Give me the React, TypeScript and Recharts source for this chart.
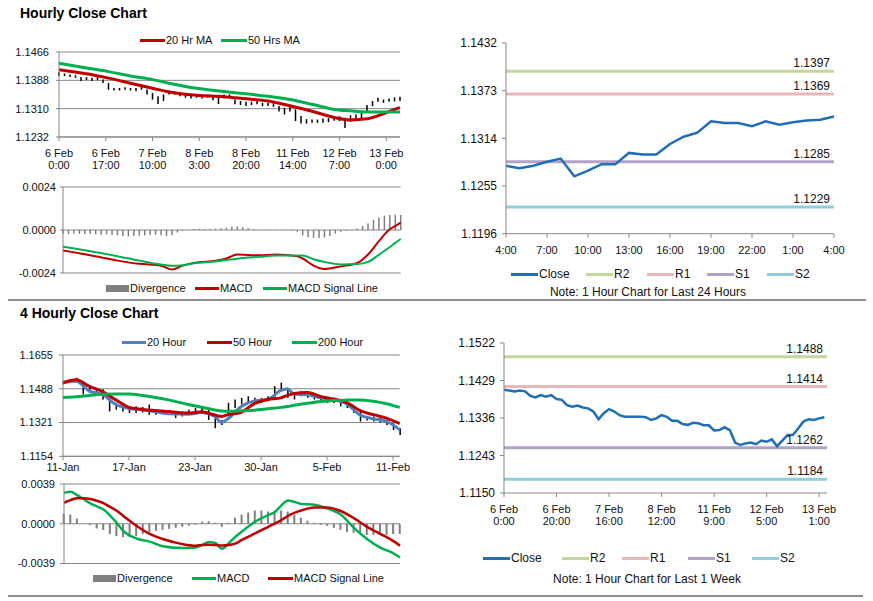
import React from 'react';
import { ComposedChart, Line, Bar, XAxis, YAxis, CartesianGrid, ReferenceLine } from 'recharts';

const FONT = '"Liberation Sans", Arial, Helvetica, sans-serif';
const AXIS = '#868686';
const TEXT = '#111';
const RED = '#C00000';
const GREEN = '#00B050';
const STEEL = '#4F81BD';
const CLOSE_BLUE = '#1F6EB7';
const DIV_GRAY = '#7F7F7F';

// ---------- Hourly close chart: 6 Feb 0:00 .. 13 Feb 0:00, one high/low bar every 2 hours
const hrTickHours = [0, 17, 34, 51, 68, 85, 102, 119];
const hrTickLabels = ['6 Feb\n0:00', '6 Feb\n17:00', '7 Feb\n10:00', '8 Feb\n3:00', '8 Feb\n20:00', '11 Feb\n14:00', '12 Feb\n7:00', '13 Feb\n0:00'];
const hrPriceTicks = [1.1232, 1.131, 1.1388, 1.1466];

const hrLow = [
  1.1400, 1.1400, 1.1397, 1.1395, 1.1386, 1.1389, 1.1386, 1.1388, 1.1381, 1.1362,
  1.1360, 1.1360, 1.1362, 1.1360, 1.1358, 1.1362, 1.1349, 1.1335, 1.1323, 1.1331,
  1.1349, 1.1349, 1.1344, 1.1340, 1.1338, 1.1340, 1.1338, 1.1340, 1.1333, 1.1323,
  1.1338, 1.1340, 1.1322, 1.1320, 1.1317, 1.1320, 1.1322, 1.1317, 1.1317, 1.1315,
  1.1302, 1.1294, 1.1302, 1.1276, 1.1269, 1.1269, 1.1271, 1.1271, 1.1271, 1.1273,
  1.1277, 1.1276, 1.1257, 1.1274, 1.1280, 1.1283, 1.1299, 1.1317, 1.1329, 1.1326,
  1.1329, 1.1330, 1.1331,
];
const hrHigh = [
  1.1410, 1.1407, 1.1404, 1.1402, 1.1397, 1.1397, 1.1395, 1.1397, 1.1390, 1.1381,
  1.1367, 1.1367, 1.1369, 1.1367, 1.1367, 1.1371, 1.1363, 1.1353, 1.1344, 1.1349,
  1.1360, 1.1358, 1.1355, 1.1353, 1.1349, 1.1347, 1.1346, 1.1349, 1.1346, 1.1342,
  1.1349, 1.1349, 1.1335, 1.1331, 1.1329, 1.1329, 1.1331, 1.1326, 1.1326, 1.1326,
  1.1317, 1.1312, 1.1317, 1.1308, 1.1290, 1.1281, 1.1280, 1.1280, 1.1283, 1.1284,
  1.1289, 1.1289, 1.1285, 1.1292, 1.1294, 1.1299, 1.1320, 1.1331, 1.1340, 1.1335,
  1.1338, 1.1341, 1.1343,
];
const hrMaHours = [0, 10, 18, 26, 34, 40, 50, 60, 68, 76, 84, 92, 100, 106, 112, 118, 122, 124];
const hrMa20 = [1.1417, 1.1406, 1.1394, 1.138, 1.1366, 1.1356, 1.1347, 1.1343, 1.1337, 1.1331, 1.1318, 1.1303, 1.1286, 1.1279, 1.1282, 1.1296, 1.1308, 1.1313];
const hrMa50 = [1.1435, 1.1422, 1.1412, 1.14, 1.139, 1.138, 1.1366, 1.1357, 1.1351, 1.1344, 1.1335, 1.1322, 1.1308, 1.1304, 1.1301, 1.1301, 1.1301, 1.1301];

const hrMacdTicks = [-0.0024, 0, 0.0024];
const hrDiv = [
  -0.0002, -0.00022, -0.0002, -0.00022, -0.00024, -0.00022, -0.00024, -0.00026, -0.00024, -0.00028,
  -0.0003, -0.00034, -0.00036, -0.00034, -0.00032, -0.0003, -0.00028, -0.00026, -0.0003, -0.00034,
  -0.0003, -0.00014, -0.00004, 0.00002, 0.00005, 0.00006, 0.00005, 0.00007, 0.00008, 0.0001,
  0.00012, 0.00018, 0.0002, 0.00016, 0.0001, 0.00004, 0.00002, -0.00002, 0.00003, 0.00002,
  -0.00002, 0.00002, -0.00004, -0.0001, -0.0003, -0.0004, -0.00044, -0.00045, -0.00042, -0.00034,
  -0.0002, -0.0001, -0.00006, -0.00002, 0.00008, 0.00022, 0.00036, 0.00056, 0.0007, 0.0008,
  0.00084, 0.00085, 0.00084,
];
const hrMacdHours = [0, 10, 20, 28, 36, 40, 44, 48, 56, 60, 64, 72, 78, 86, 88, 92, 96, 102, 108, 112, 116, 120, 122, 124];
const hrMacd = [-0.00114, -0.00141, -0.00171, -0.00189, -0.00199, -0.00221, -0.00199, -0.00184, -0.00171, -0.00159, -0.00137, -0.00141, -0.00137, -0.00146, -0.00159, -0.00199, -0.00218, -0.00203, -0.00184, -0.00137, -0.00062, 0.00004, 0.00022, 0.00041];
const hrSignal = [-0.00094, -0.00118, -0.00146, -0.00171, -0.00193, -0.002, -0.00197, -0.00185, -0.00176, -0.00168, -0.0016, -0.0015, -0.00143, -0.00142, -0.00142, -0.00163, -0.00178, -0.00192, -0.0019, -0.00178, -0.00138, -0.00095, -0.00072, -0.0005];

// ---------- 4 hourly close chart: 11 Jan .. 11 Feb, one bar every 3 units (30 units per label)
const fourTickUnits = [0, 30, 60, 90, 120, 150];
const fourTickLabels = ['11-Jan', '17-Jan', '23-Jan', '30-Jan', '5-Feb', '11-Feb'];
const fourPriceTicks = [1.1154, 1.1321, 1.1488, 1.1655];

const fourLow = [
  1.1510, 1.1518, 1.1526, 1.1460, 1.1468, 1.1471, 1.1435, 1.1376, 1.1385, 1.1376,
  1.1368, 1.1368, 1.1371, 1.1359, 1.1359, 1.1362, 1.1359, 1.1343, 1.1351, 1.1359,
  1.1368, 1.1368, 1.1334, 1.1293, 1.1309, 1.1351, 1.1393, 1.1410, 1.1418, 1.1426,
  1.1418, 1.1426, 1.1435, 1.1476, 1.1443, 1.1435, 1.1451, 1.1443, 1.1435, 1.1426,
  1.1418, 1.1418, 1.1401, 1.1393, 1.1368, 1.1326, 1.1331, 1.1326, 1.1321, 1.1309,
  1.1284, 1.1259,
];
const fourHigh = [
  1.1527, 1.1535, 1.1543, 1.1518, 1.1493, 1.1493, 1.1485, 1.1443, 1.1418, 1.1410,
  1.1401, 1.1401, 1.1398, 1.1410, 1.1384, 1.1384, 1.1376, 1.1371, 1.1376, 1.1384,
  1.1393, 1.1401, 1.1384, 1.1351, 1.1334, 1.1418, 1.1435, 1.1443, 1.1451, 1.1443,
  1.1443, 1.1451, 1.1501, 1.1518, 1.1485, 1.1468, 1.1476, 1.1468, 1.1451, 1.1443,
  1.1443, 1.1435, 1.1426, 1.1418, 1.1401, 1.1376, 1.1351, 1.1351, 1.1343, 1.1334,
  1.1318, 1.1293,
];
const fourMaUnits = [0, 6, 12, 18, 24, 30, 36, 42, 48, 57, 63, 69, 72, 75, 81, 87, 93, 99, 102, 105, 111, 117, 123, 129, 135, 141, 147, 153];
const four20 = [1.1518, 1.1525, 1.1476, 1.146, 1.141, 1.139, 1.1384, 1.1374, 1.1364, 1.1362, 1.137, 1.1351, 1.1322, 1.134, 1.14, 1.1428, 1.1435, 1.148, 1.1488, 1.1462, 1.1458, 1.1443, 1.1433, 1.1412, 1.1358, 1.134, 1.1327, 1.1286];
const four50 = [1.1518, 1.1533, 1.15, 1.1474, 1.1433, 1.1396, 1.1386, 1.138, 1.1375, 1.1368, 1.1374, 1.1358, 1.1351, 1.136, 1.1372, 1.1415, 1.1435, 1.1443, 1.1455, 1.1465, 1.147, 1.145, 1.1437, 1.142, 1.138, 1.136, 1.1343, 1.1316];
const four200 = [1.1445, 1.1448, 1.1455, 1.1461, 1.1462, 1.1462, 1.1455, 1.1445, 1.1433, 1.141, 1.1397, 1.1383, 1.1378, 1.1377, 1.1379, 1.1382, 1.1389, 1.1396, 1.14, 1.1406, 1.1416, 1.1425, 1.143, 1.1432, 1.1433, 1.1426, 1.1414, 1.1396];

const fourMacdTicks = [-0.0039, 0, 0.0039];
const fourDiv = [
  0.001, 0.0009, 0.0005, 0.0, -0.00013, -0.00045, -0.00061, -0.001, -0.0012, -0.0013,
  -0.0013, -0.0012, -0.001, -0.0008, -0.0007, -0.0006, -0.0005, -0.0004, -0.0003, -0.0002,
  -0.0001, 0.0002, 0.00026, 0.0001, -0.0003, 0.0001, 0.0006, 0.0009, 0.0011, 0.0013,
  0.0013, 0.0012, 0.0012, 0.0013, 0.0012, 0.0009, 0.0006, 0.0003, 0.0001, -0.0001,
  -0.0002, -0.0004, -0.0006, -0.0008, -0.0009, -0.001, -0.0011, -0.0011, -0.0011, -0.0011,
  -0.001, -0.001,
];
const fourMacdUnits = [0, 3, 6, 9, 12, 15, 18, 21, 24, 27, 33, 39, 45, 54, 60, 63, 66, 69, 72, 75, 78, 81, 87, 93, 96, 99, 102, 108, 114, 120, 126, 132, 138, 144, 150, 153];
const fourMacd = [
  0.00303, 0.00313, 0.0028, 0.0024, 0.002, 0.0017, 0.0014, 0.0008, 0.0001, -0.0007,
  -0.00145, -0.00175, -0.0022, -0.00238, -0.00232, -0.00208, -0.00178, -0.0019, -0.00245, -0.0019,
  -0.0013, -0.00077, 0.00019, 0.00084, 0.00116, 0.0018, 0.00229, 0.00195, 0.00187, 0.0015,
  0.0009, -0.0004, -0.0015, -0.00235, -0.0029, -0.0033,
];
const fourSignal = [
  0.00206, 0.00232, 0.0025, 0.0025, 0.00243, 0.00225, 0.00203, 0.00165, 0.00127, 0.00077,
  -0.0002, -0.001, -0.0015, -0.002, -0.00215, -0.00208, -0.00205, -0.00208, -0.00213, -0.00208,
  -0.00195, -0.00158, -0.00095, -0.0003, 0.00002, 0.00035, 0.00078, 0.0013, 0.0016, 0.0016,
  0.00125, 0.00055, -0.0003, -0.001, -0.0017, -0.00215,
];

// ---------- Right side: support / resistance charts
const levelNames = ['R2', 'R1', 'S1', 'S2'];
const levelColors = ['#C3D69B', '#E6B9B8', '#B3A2C7', '#93CDDD'];

const dayClose = [1.128, 1.1277, 1.128, 1.1285, 1.1289, 1.1267, 1.1274, 1.1282, 1.1282, 1.1296, 1.1294, 1.1294, 1.1307, 1.1316, 1.1321, 1.1335, 1.1333, 1.1333, 1.1329, 1.1335, 1.1331, 1.1334, 1.1336, 1.1337, 1.1341];
const dayLevels = [1.1397, 1.1369, 1.1285, 1.1229];
const dayTickHours = [0, 3, 6, 9, 12, 15, 18, 21, 24];
const dayTickLabels = ['4:00', '7:00', '10:00', '13:00', '16:00', '19:00', '22:00', '1:00', '4:00'];
const dayPriceTicks = [1.1196, 1.1255, 1.1314, 1.1373, 1.1432];

const weekClose = [
  1.1406, 1.1404, 1.1402, 1.1404, 1.1402, 1.1391, 1.1387, 1.1393, 1.1389, 1.1393,
  1.1383, 1.1381, 1.1368, 1.1364, 1.1367, 1.1362, 1.136, 1.1352, 1.1333, 1.1348,
  1.1358, 1.1352, 1.1343, 1.1339, 1.1339, 1.1339, 1.1339, 1.1338, 1.1331, 1.1335,
  1.1343, 1.1339, 1.1329, 1.1329, 1.1321, 1.1319, 1.1324, 1.1323, 1.1318, 1.1318,
  1.1305, 1.1306, 1.1313, 1.1306, 1.1275, 1.1269, 1.1273, 1.1275, 1.1271, 1.128,
  1.1277, 1.1283, 1.1266, 1.128, 1.1294, 1.1294, 1.131, 1.1327, 1.1333, 1.1331,
  1.1335, 1.1338,
];
const weekLevels = [1.1488, 1.1414, 1.1262, 1.1184];
const weekTickHours = [0, 20, 40, 60, 80, 100, 120];
const weekTickLabels = ['6 Feb\n0:00', '6 Feb\n20:00', '7 Feb\n16:00', '8 Feb\n12:00', '11 Feb\n9:00', '12 Feb\n5:00', '13 Feb\n1:00'];
const weekPriceTicks = [1.115, 1.1243, 1.1336, 1.1429, 1.1522];

// rows on an evenly spaced x grid; the thinner line series are placed on the x values they were read at
function buildRows(step: number, dense: Record<string, number[]>, lineXs: number[] = [], lines: Record<string, number[]> = {}) {
  const n = Object.values(dense)[0].length;
  return Array.from({ length: n }, (_, i) => {
    const x = i * step;
    const row: Record<string, number> = { x };
    for (const k of Object.keys(dense)) row[k] = dense[k][i];
    const j = lineXs.indexOf(x);
    if (j >= 0) for (const k of Object.keys(lines)) row[k] = lines[k][j];
    return row;
  });
}

const hrPriceRows = buildRows(2, { lo: hrLow, hi: hrHigh }, hrMaHours, { ma20: hrMa20, ma50: hrMa50 });
const hrMacdRows = buildRows(2, { div: hrDiv }, hrMacdHours, { macd: hrMacd, signal: hrSignal });
const fourPriceRows = buildRows(3, { lo: fourLow, hi: fourHigh }, fourMaUnits, { m20: four20, m50: four50, m200: four200 });
const fourMacdRows = buildRows(3, { div: fourDiv }, fourMacdUnits, { macd: fourMacd, signal: fourSignal });
const dayRows = buildRows(1, { close: dayClose });
const weekRows = buildRows(2, { close: weekClose });

const hiLo = (d: any) => [d.lo, d.hi];
const fmt4 = (v: number) => v.toFixed(4);

// chart box placed so that the plot area lands on (l, t) - (r, b)
function frame(l: number, t: number, r: number, b: number, yw: number, xh: number) {
  const margin = { top: 8, right: 14, bottom: 9, left: 0 };
  return {
    style: { position: 'absolute' as const, left: l - yw, top: t - margin.top },
    width: r - l + yw + margin.right,
    height: b - t + margin.top + xh + margin.bottom,
    margin,
  };
}

function MultiTick(props: any) {
  const { x, y, payload, ticks, labels, size } = props;
  const idx = ticks.indexOf(payload.value);
  const lines = String(labels[idx] ?? '').split('\n');
  return (
    <text x={x} y={y} textAnchor="middle" fontSize={size} fill={TEXT}>
      {lines.map((s: string, i: number) => (
        <tspan key={i} x={x} dy={i === 0 ? '0.71em' : 12.5}>{s}</tspan>
      ))}
    </text>
  );
}

type LegendItem = { x: number; label: string; color: string; kind: 'line' | 'box'; w: number };

function LegendRow({ y, items, size }: { y: number; items: LegendItem[]; size: number }) {
  return (
    <>
      {items.map((it) => (
        <div key={it.label} style={{ position: 'absolute', left: it.x, top: y - 8, height: 16, display: 'flex', alignItems: 'center', fontSize: size, whiteSpace: 'nowrap', color: TEXT }}>
          <span style={{ display: 'inline-block', width: it.w, height: it.kind === 'box' ? 7 : 3, background: it.color, marginRight: 1 }} />
          {it.label}
        </div>
      ))}
    </>
  );
}

function Title({ y, children }: { y: number; children: React.ReactNode }) {
  return <div style={{ position: 'absolute', left: 20, top: y - 9, fontSize: 14, fontWeight: 'bold', lineHeight: '18px', color: '#000' }}>{children}</div>;
}

function Note({ x, y, children }: { x: number; y: number; children: React.ReactNode }) {
  return <div style={{ position: 'absolute', left: x - 150, width: 300, top: y - 8, textAlign: 'center', fontSize: 12, lineHeight: '16px', color: TEXT }}>{children}</div>;
}

function LevelChart({ rows, levels, domainX, ticksX, labelsX, yTicks, plot, xh, labelTop }: any) {
  const f = frame(plot[0], plot[1], plot[2], plot[3], 55, xh);
  return (
    <div style={f.style}>
      <ComposedChart width={f.width} height={f.height} margin={f.margin} data={rows}>
        <XAxis type="number" dataKey="x" domain={domainX} ticks={ticksX} interval={0} height={xh}
          stroke={AXIS} tickSize={4} tickMargin={labelTop}
          tick={(p: any) => <MultiTick {...p} ticks={ticksX} labels={labelsX} size={11} />} />
        <YAxis type="number" domain={[yTicks[0], yTicks[yTicks.length - 1]]} ticks={yTicks} interval={0} width={55}
          stroke={AXIS} tickSize={4} tickMargin={5} tickFormatter={fmt4}
          tick={{ fontSize: 12, fill: TEXT }} />
        {levels.map((v: number, i: number) => (
          <ReferenceLine key={levelNames[i]} y={v} stroke={levelColors[i]} strokeWidth={3}
            label={{ value: fmt4(v), position: 'insideBottomRight', offset: 4, fontSize: 12, fill: TEXT }} />
        ))}
        <Line type="linear" dataKey="close" stroke={CLOSE_BLUE} strokeWidth={2.5} dot={false} activeDot={false} isAnimationActive={false} />
      </ComposedChart>
    </div>
  );
}

const levelLegend = (xs: number[]): LegendItem[] => [
  { x: xs[0], label: 'Close', color: CLOSE_BLUE, kind: 'line', w: 27 },
  ...levelNames.map((n, i) => ({ x: xs[i + 1], label: n, color: levelColors[i], kind: 'line' as const, w: 27 })),
];

export default function App() {
  const fA = frame(59, 52, 400, 137, 55, 36);
  const fB = frame(63.3, 186.5, 401, 272.5, 55, 0);
  const fE = frame(63.3, 355, 400, 456.3, 55, 20);
  const fF = frame(64, 484, 400, 563.5, 55, 0);

  return (
    <div style={{ position: 'absolute', left: 0, top: 0, width: 873, height: 601, background: '#fff', fontFamily: FONT, color: TEXT, overflow: 'hidden' }}>
      <Title y={13}>Hourly Close Chart</Title>
      <Title y={313}>4 Hourly Close Chart</Title>
      <div style={{ position: 'absolute', left: 8, top: 299, width: 858, height: 2, background: '#8C8C8C' }} />
      <div style={{ position: 'absolute', left: 8, top: 595, width: 855, height: 2, background: '#8C8C8C' }} />

      {/* hourly price with moving averages */}
      <LegendRow y={40} size={11} items={[
        { x: 140, label: '20 Hr MA', color: RED, kind: 'line', w: 25 },
        { x: 221, label: '50 Hrs MA', color: GREEN, kind: 'line', w: 26 },
      ]} />
      <div style={fA.style}>
        <ComposedChart width={fA.width} height={fA.height} margin={fA.margin} data={hrPriceRows}>
          <CartesianGrid vertical={false} stroke={AXIS} />
          <XAxis type="number" dataKey="x" domain={[0, 124]} ticks={hrTickHours} interval={0} height={36}
            stroke={AXIS} tickSize={4} tickMargin={8}
            tick={(p: any) => <MultiTick {...p} ticks={hrTickHours} labels={hrTickLabels} size={11} />} />
          <YAxis type="number" domain={[1.1232, 1.1466]} ticks={hrPriceTicks} interval={0} width={55}
            stroke={AXIS} tickSize={3} tickMargin={7} tickFormatter={fmt4} tick={{ fontSize: 11, fill: TEXT }} />
          <Bar dataKey={hiLo} fill="#000" barSize={1.5} isAnimationActive={false} />
          <Line type="monotone" dataKey="ma20" stroke={RED} strokeWidth={3} dot={false} activeDot={false} connectNulls isAnimationActive={false} />
          <Line type="monotone" dataKey="ma50" stroke={GREEN} strokeWidth={3} dot={false} activeDot={false} connectNulls isAnimationActive={false} />
        </ComposedChart>
      </div>

      {/* hourly MACD */}
      <div style={fB.style}>
        <ComposedChart width={fB.width} height={fB.height} margin={fB.margin} data={hrMacdRows}>
          <CartesianGrid vertical={false} stroke={AXIS} />
          <XAxis type="number" dataKey="x" domain={[0, 124]} hide />
          <YAxis type="number" domain={[-0.0024, 0.0024]} ticks={hrMacdTicks} interval={0} width={55}
            stroke={AXIS} tickSize={3} tickMargin={4} tickFormatter={fmt4} tick={{ fontSize: 11, fill: TEXT }} />
          <Bar dataKey="div" fill={DIV_GRAY} barSize={1.5} isAnimationActive={false} />
          <Line type="monotone" dataKey="macd" stroke={RED} strokeWidth={2} dot={false} activeDot={false} connectNulls isAnimationActive={false} />
          <Line type="monotone" dataKey="signal" stroke={GREEN} strokeWidth={2} dot={false} activeDot={false} connectNulls isAnimationActive={false} />
        </ComposedChart>
      </div>
      <LegendRow y={288} size={11} items={[
        { x: 106, label: 'Divergence', color: DIV_GRAY, kind: 'box', w: 23 },
        { x: 195, label: 'MACD', color: RED, kind: 'line', w: 24 },
        { x: 263, label: 'MACD Signal Line', color: GREEN, kind: 'line', w: 24 },
      ]} />

      {/* 4 hourly price with moving averages */}
      <LegendRow y={342} size={11} items={[
        { x: 122, label: '20 Hour', color: STEEL, kind: 'line', w: 24 },
        { x: 207, label: '50 Hour', color: RED, kind: 'line', w: 25 },
        { x: 292, label: '200 Hour', color: GREEN, kind: 'line', w: 25 },
      ]} />
      <div style={fE.style}>
        <ComposedChart width={fE.width} height={fE.height} margin={fE.margin} data={fourPriceRows}>
          <CartesianGrid vertical={false} stroke={AXIS} />
          <XAxis type="number" dataKey="x" domain={[0, 153]} ticks={fourTickUnits} interval={0} height={20}
            stroke={AXIS} tickSize={4} tickMargin={3}
            tick={(p: any) => <MultiTick {...p} ticks={fourTickUnits} labels={fourTickLabels} size={11} />} />
          <YAxis type="number" domain={[1.1154, 1.1655]} ticks={fourPriceTicks} interval={0} width={55}
            stroke={AXIS} tickSize={4} tickMargin={6} tickFormatter={fmt4} tick={{ fontSize: 11, fill: TEXT }} />
          <Bar dataKey={hiLo} fill="#000" barSize={1.5} isAnimationActive={false} />
          <Line type="monotone" dataKey="m20" stroke={STEEL} strokeWidth={3} dot={false} activeDot={false} connectNulls isAnimationActive={false} />
          <Line type="monotone" dataKey="m50" stroke={RED} strokeWidth={3} dot={false} activeDot={false} connectNulls isAnimationActive={false} />
          <Line type="monotone" dataKey="m200" stroke={GREEN} strokeWidth={3} dot={false} activeDot={false} connectNulls isAnimationActive={false} />
        </ComposedChart>
      </div>

      {/* 4 hourly MACD */}
      <div style={fF.style}>
        <ComposedChart width={fF.width} height={fF.height} margin={fF.margin} data={fourMacdRows}>
          <CartesianGrid vertical={false} stroke={AXIS} />
          <XAxis type="number" dataKey="x" domain={[0, 153]} hide />
          <YAxis type="number" domain={[-0.0039, 0.0039]} ticks={fourMacdTicks} interval={0} width={55}
            stroke={AXIS} tickSize={4} tickMargin={5} tickFormatter={fmt4} tick={{ fontSize: 11, fill: TEXT }} />
          <Bar dataKey="div" fill={DIV_GRAY} barSize={2} isAnimationActive={false} />
          <Line type="monotone" dataKey="macd" stroke={GREEN} strokeWidth={2.5} dot={false} activeDot={false} connectNulls isAnimationActive={false} />
          <Line type="monotone" dataKey="signal" stroke={RED} strokeWidth={2.5} dot={false} activeDot={false} connectNulls isAnimationActive={false} />
        </ComposedChart>
      </div>
      <LegendRow y={578} size={11} items={[
        { x: 93, label: 'Divergence', color: DIV_GRAY, kind: 'box', w: 23 },
        { x: 192, label: 'MACD', color: GREEN, kind: 'line', w: 24 },
        { x: 268, label: 'MACD Signal Line', color: RED, kind: 'line', w: 25 },
      ]} />

      {/* right: last 24 hours */}
      <LevelChart rows={dayRows} levels={dayLevels} domainX={[0, 24]} ticksX={dayTickHours} labelsX={dayTickLabels}
        yTicks={dayPriceTicks} plot={[506, 43.3, 834, 234]} xh={24} labelTop={9} />
      <LegendRow y={274} size={12} items={levelLegend([511, 586, 647, 707, 767])} />
      <Note x={648} y={292}>Note: 1 Hour Chart for Last 24 Hours</Note>

      {/* right: last week */}
      <LevelChart rows={weekRows} levels={weekLevels} domainX={[0, 123]} ticksX={weekTickHours} labelsX={weekTickLabels}
        yTicks={weekPriceTicks} plot={[504, 343, 827, 493]} xh={36} labelTop={8} />
      <LegendRow y={558} size={12} items={levelLegend([483, 562, 622, 688, 752])} />
      <Note x={647} y={579}>Note: 1 Hour Chart for Last 1 Week</Note>
    </div>
  );
}
